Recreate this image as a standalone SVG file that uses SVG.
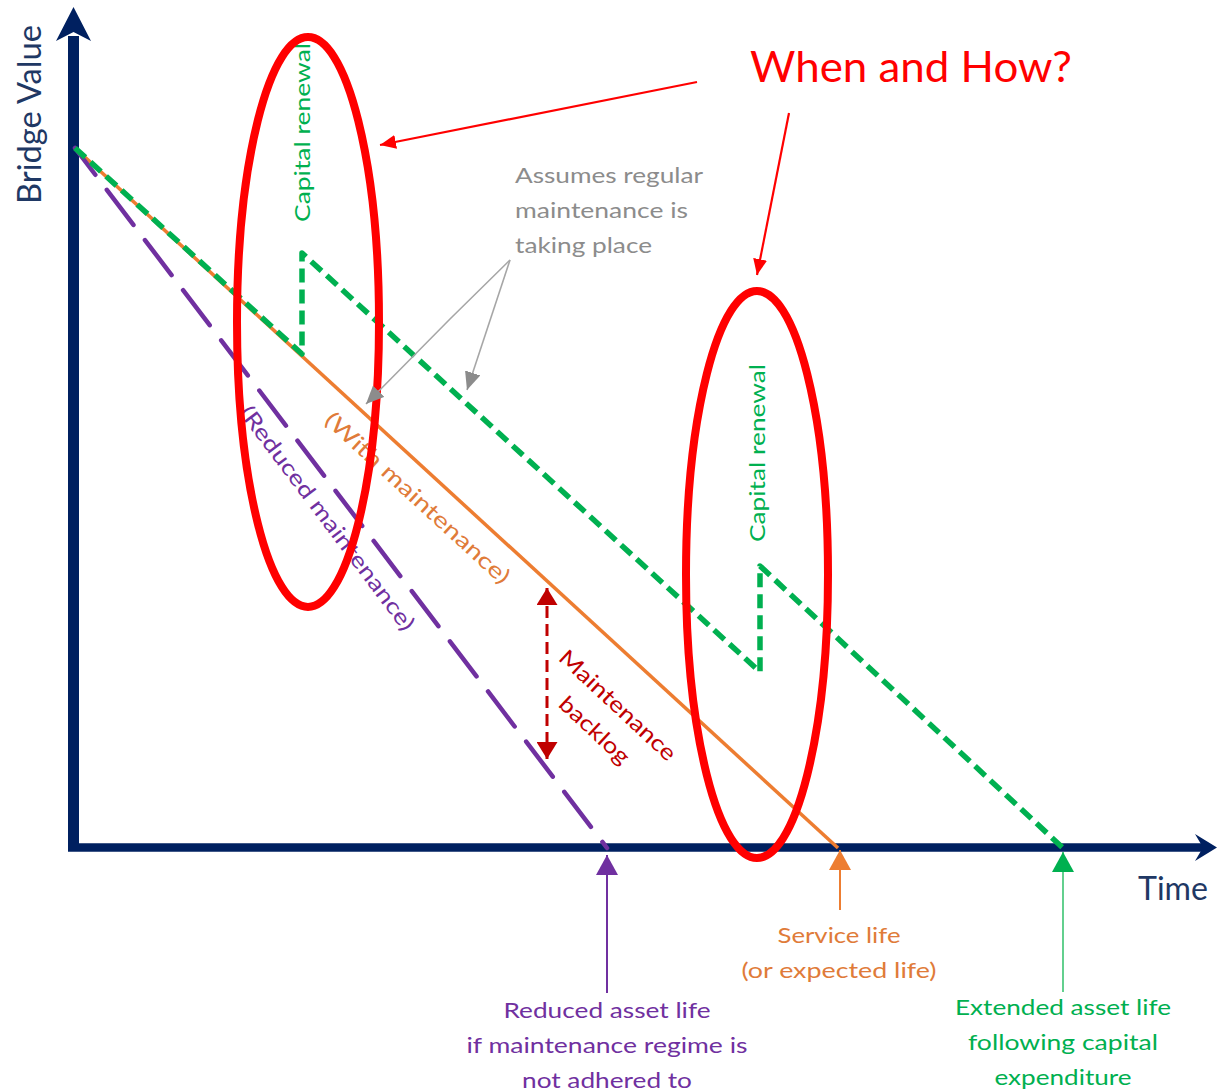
<svg xmlns="http://www.w3.org/2000/svg" width="1219" height="1091" viewBox="0 0 1219 1091">
  <style>
    text { font-family: Lato, "Open Sans", "Liberation Sans", sans-serif; }
    .axis-line { stroke: #002060; fill: none; }
    .axis-head { fill: #002060; }
    .axis-title { fill: #1F3864; font-size: 32px; }
    .lbl { font-size: 22px; }
    .note { fill: #8C8C8C; font-size: 21px; }
    .ring { fill: none; stroke: #FF0000; stroke-width: 8; }
    .callout { stroke: #FF0000; stroke-width: 2.2; fill: none; }
    .pointer { stroke: #A6A6A6; stroke-width: 1.6; fill: none; }
    .c-green { fill: #00B050; }
    .c-orange { fill: #E07B39; }
    .c-purple { fill: #7030A0; }
    .c-red { fill: #C00000; }
  </style>
  <defs>
    <marker id="tip-gray" markerUnits="userSpaceOnUse" viewBox="0 0 18 16" refX="18" refY="8" markerWidth="18" markerHeight="16" orient="auto">
      <path d="M0,0 L18,8 L0,16 Z" fill="#8C8C8C"/>
    </marker>
    <marker id="tip-red" markerUnits="userSpaceOnUse" viewBox="0 0 16 14" refX="16" refY="7" markerWidth="16" markerHeight="14" orient="auto">
      <path d="M0,0 L16,7 L0,14 Z" fill="#FF0000"/>
    </marker>
    <marker id="tip-dkred" markerUnits="userSpaceOnUse" viewBox="0 0 17 21" refX="17" refY="10.5" markerWidth="17" markerHeight="21" orient="auto-start-reverse">
      <path d="M0,0 L17,10.5 L0,21 Z" fill="#C00000"/>
    </marker>
    <marker id="tip-purple" markerUnits="userSpaceOnUse" viewBox="0 0 20 22" refX="20" refY="11" markerWidth="20" markerHeight="22" orient="auto">
      <path d="M0,0 L20,11 L0,22 Z" fill="#7030A0"/>
    </marker>
    <marker id="tip-orange" markerUnits="userSpaceOnUse" viewBox="0 0 20 22" refX="20" refY="11" markerWidth="20" markerHeight="22" orient="auto">
      <path d="M0,0 L20,11 L0,22 Z" fill="#ED7D31"/>
    </marker>
    <marker id="tip-green" markerUnits="userSpaceOnUse" viewBox="0 0 20 22" refX="20" refY="11" markerWidth="20" markerHeight="22" orient="auto">
      <path d="M0,0 L20,11 L0,22 Z" fill="#00B050"/>
    </marker>
  </defs>

  <rect width="1219" height="1091" fill="#FFFFFF"/>

  <!-- axes -->
  <g id="axes">
    <line class="axis-line" x1="73.5" y1="36" x2="73.5" y2="847" stroke-width="11"/>
    <polygon class="axis-head" points="73.5,7 91,41 73.5,32 56,41"/>
    <line class="axis-line" x1="68" y1="847.5" x2="1206" y2="847.5" stroke-width="8.5"/>
    <polygon class="axis-head" points="1217,847.5 1195,834 1203,847.5 1195,861"/>
    <text class="axis-title" transform="translate(41,204) rotate(-90)" textLength="179" lengthAdjust="spacingAndGlyphs">Bridge Value</text>
    <text class="axis-title" x="1138" y="900" textLength="70" lengthAdjust="spacingAndGlyphs">Time</text>
  </g>

  <!-- value curves -->
  <g id="curves">
    <path id="with-maintenance" d="M75,148 L838,848" stroke="#ED7D31" stroke-width="3.5" fill="none"/>
    <path id="reduced-maintenance" d="M75,148 L607,848" stroke="#7030A0" stroke-width="4.5" fill="none" stroke-dasharray="44 19" stroke-dashoffset="10.4" stroke-linecap="round"/>
    <path id="capital-renewal-path" d="M75,148 L302,354 L302,253 L760,672 L760,566 L1063,848" stroke="#00B050" stroke-width="5.5" fill="none" stroke-dasharray="14 7" stroke-linejoin="round"/>
  </g>

  <!-- curve labels -->
  <g id="label-with">
    <text class="lbl c-orange" transform="translate(75,148) rotate(42.54)" x="368" y="34" textLength="242" lengthAdjust="spacingAndGlyphs">(With maintenance)</text>
  </g>
  <g id="label-reduced">
    <text class="lbl c-purple" transform="translate(75,148) rotate(53)" x="310" y="29" textLength="275" lengthAdjust="spacingAndGlyphs">(Reduced maintenance)</text>
  </g>
  <g id="renewal-1">
    <text class="lbl c-green" transform="translate(310,222) rotate(-90)" textLength="179" lengthAdjust="spacingAndGlyphs">Capital renewal</text>
  </g>
  <g id="renewal-2">
    <text class="lbl c-green" transform="translate(765,542) rotate(-90)" textLength="178" lengthAdjust="spacingAndGlyphs">Capital renewal</text>
  </g>

  <!-- maintenance backlog -->
  <g id="backlog">
    <line x1="547" y1="588" x2="547" y2="759" stroke="#C00000" stroke-width="3" stroke-dasharray="12 6" marker-start="url(#tip-dkred)" marker-end="url(#tip-dkred)"/>
    <g class="lbl c-red" transform="translate(618,705) rotate(43)" text-anchor="middle">
      <text x="0" y="8" textLength="151" lengthAdjust="spacingAndGlyphs">Maintenance</text>
      <text x="0" y="42" textLength="88" lengthAdjust="spacingAndGlyphs">backlog</text>
    </g>
  </g>

  <!-- maintenance note -->
  <g id="note">
    <text class="note" x="515" y="183" textLength="188" lengthAdjust="spacingAndGlyphs">Assumes regular</text>
    <text class="note" x="515" y="218" textLength="173" lengthAdjust="spacingAndGlyphs">maintenance is</text>
    <text class="note" x="515" y="253" textLength="137" lengthAdjust="spacingAndGlyphs">taking place</text>
  </g>

  <!-- highlight rings -->
  <g id="ring-1">
    <ellipse class="ring" cx="308" cy="322" rx="71" ry="285"/>
  </g>
  <g id="ring-2">
    <ellipse class="ring" cx="757" cy="574.5" rx="71" ry="283.5"/>
  </g>

  <!-- question -->
  <g id="question">
    <text x="750" y="82" font-size="42" fill="#FF0000" textLength="322" lengthAdjust="spacingAndGlyphs">When and How?</text>
  </g>

  <!-- end-of-life labels -->
  <g id="end-reduced">
    <g class="lbl c-purple" text-anchor="middle">
      <text x="607" y="1018" textLength="207" lengthAdjust="spacingAndGlyphs">Reduced asset life</text>
      <text x="607" y="1053" textLength="281" lengthAdjust="spacingAndGlyphs">if maintenance regime is</text>
      <text x="607" y="1088" textLength="170" lengthAdjust="spacingAndGlyphs">not adhered to</text>
    </g>
  </g>
  <g id="end-service">
    <g class="lbl c-orange" text-anchor="middle">
      <text x="839" y="943" textLength="123" lengthAdjust="spacingAndGlyphs">Service life</text>
      <text x="839" y="978" textLength="195" lengthAdjust="spacingAndGlyphs">(or expected life)</text>
    </g>
  </g>
  <g id="end-extended">
    <g class="lbl c-green" text-anchor="middle">
      <text x="1063" y="1015" textLength="216" lengthAdjust="spacingAndGlyphs">Extended asset life</text>
      <text x="1063" y="1050" textLength="190" lengthAdjust="spacingAndGlyphs">following capital</text>
      <text x="1063" y="1085" textLength="137" lengthAdjust="spacingAndGlyphs">expenditure</text>
    </g>
  </g>

  <!-- connectors -->
  <g id="connectors">
    <path class="pointer" d="M510,260 L450,319 L366,404" marker-end="url(#tip-gray)"/>
    <path class="pointer" d="M510,260 L467,390" marker-end="url(#tip-gray)"/>
    <path class="callout" d="M697,82 L380,145" marker-end="url(#tip-red)"/>
    <path class="callout" d="M789,113 L757,275" marker-end="url(#tip-red)"/>
    <line x1="607" y1="993" x2="607" y2="855" stroke="#7030A0" stroke-width="2" marker-end="url(#tip-purple)"/>
    <line x1="840" y1="910" x2="840" y2="850" stroke="#ED7D31" stroke-width="2" marker-end="url(#tip-orange)"/>
    <line x1="1063" y1="992" x2="1063" y2="852" stroke="#3CC472" stroke-width="1.6" marker-end="url(#tip-green)"/>
  </g>
</svg>
